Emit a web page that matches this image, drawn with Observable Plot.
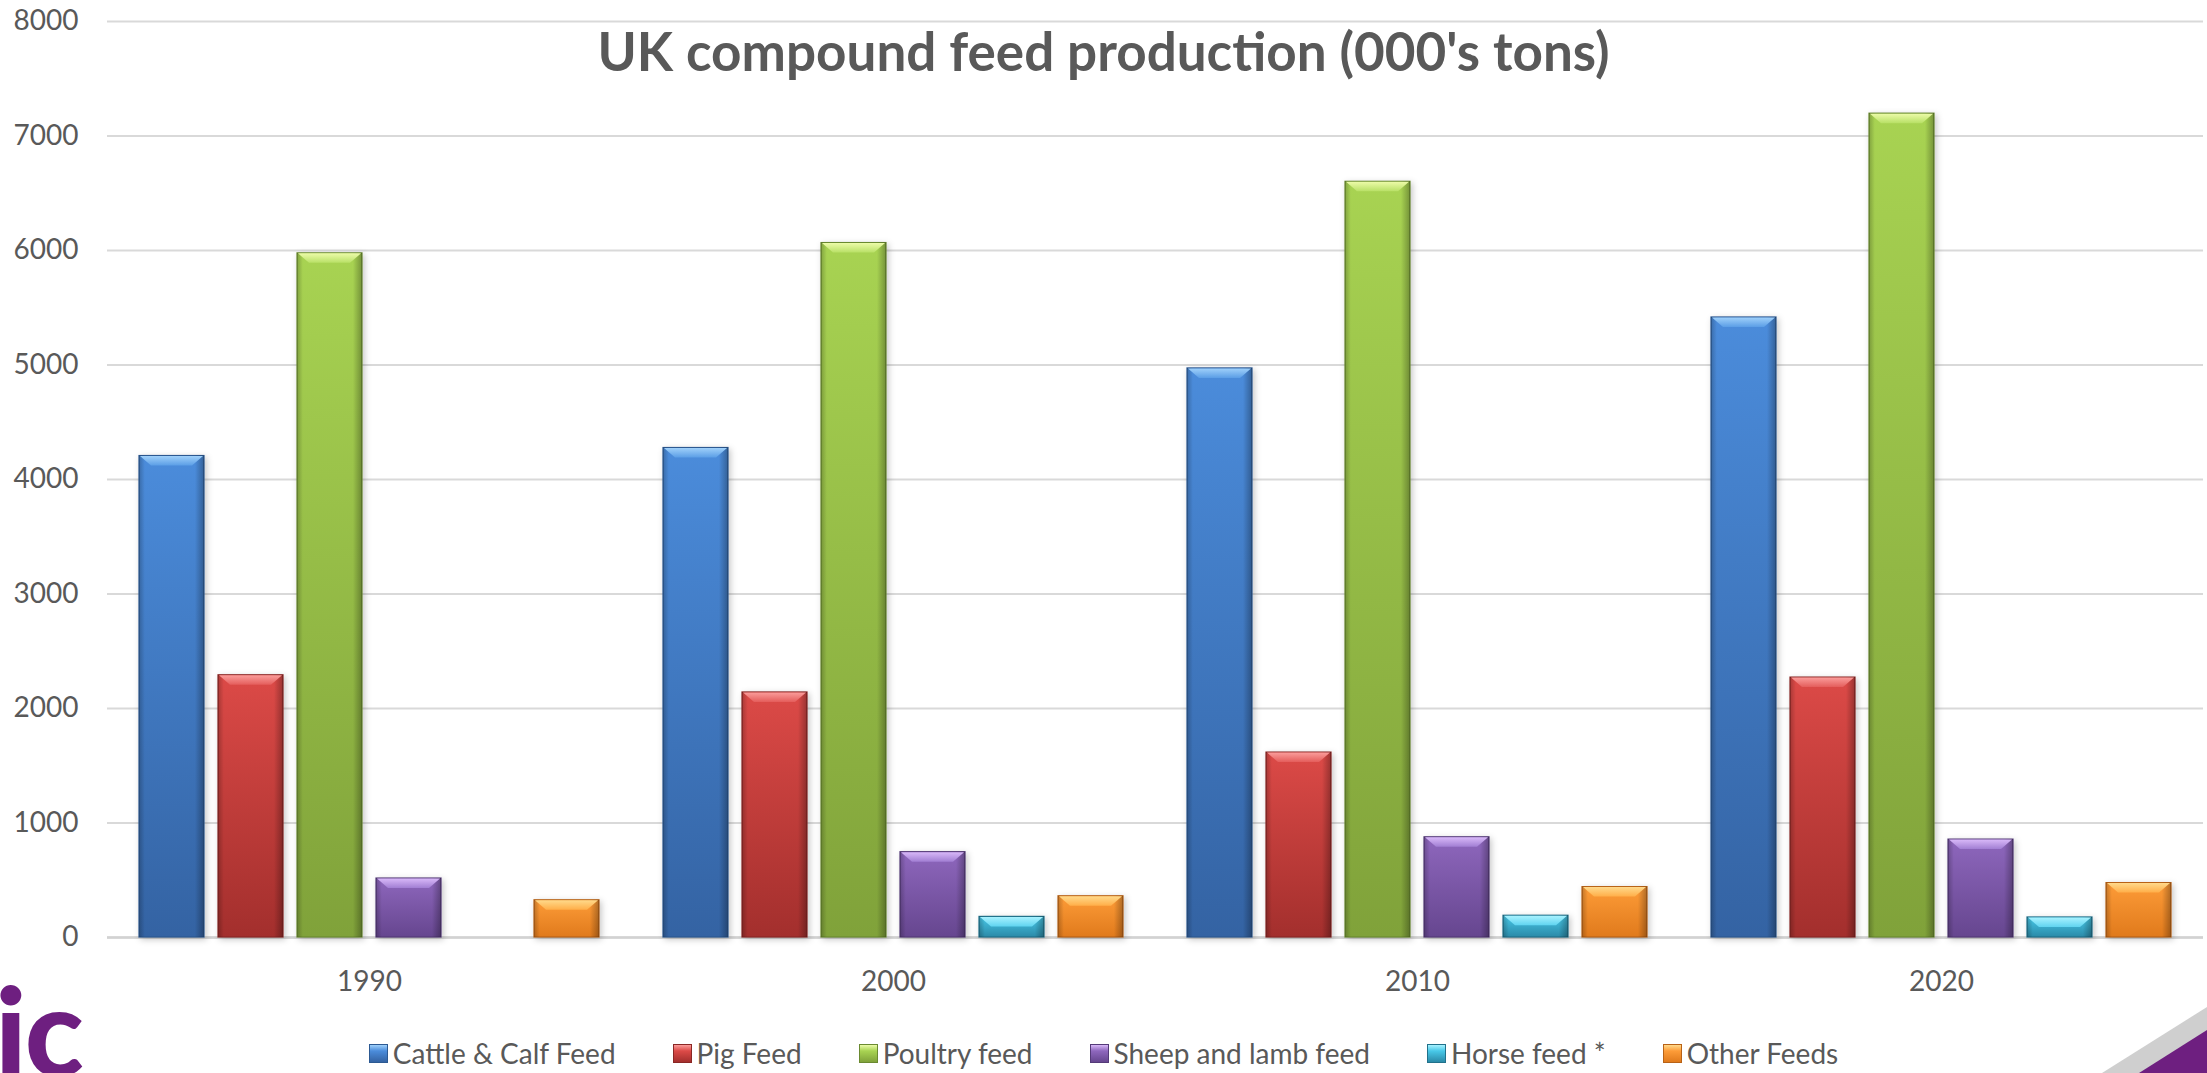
<!DOCTYPE html>
<html>
<head>
<meta charset="utf-8">
<script src="https://cdn.jsdelivr.net/npm/d3@7"></script>
<script src="https://cdn.jsdelivr.net/npm/@observablehq/plot@0.6"></script>
<style>
  html, body { margin: 0; padding: 0; background: #ffffff; }
  #page { position: relative; width: 2207px; height: 1073px; overflow: hidden; font-family: Lato, "Open Sans", sans-serif; color: #595959; }
  #title { position: absolute; left: 0; width: 2207px; top: 24px; text-align: center; font-weight: 700; font-size: 53px; line-height: 1; color: #595959; z-index: 2; }
  #legend { display: flex; justify-content: center; align-items: center; gap: 57px; padding-top: 25px; line-height: 36px; font-size: 28px; }
  #legend .item { display: flex; align-items: center; gap: 5px; }
  #legend .sw { width: 19px; height: 19px; box-sizing: border-box; }
  #logo { position: absolute; left: -5px; top: 968px; font-size: 122px; font-weight: 900; line-height: 1; color: #6e1f80; letter-spacing: -2px; }
  #corner { position: absolute; right: 0; bottom: 0; }
  svg rect[fill^="url(#body"] { filter: drop-shadow(2px 2px 3px rgba(0,0,0,0.22)); }
</style>
</head>
<body>
<div id="page">
  <div id="title">UK compound feed production (000's tons)</div>
  <div id="chart"></div>
  <div id="legend"></div>
  <div id="logo">ic</div>
  <svg id="corner" width="110" height="70" viewBox="0 0 110 70">
    <polygon points="5,70 110,4 110,70" fill="#cfcfcf"></polygon>
    <polygon points="42,70 110,27 110,70" fill="#6e1f80"></polygon>
  </svg>
</div>
<script>
// Categories and series
const years = ["1990", "2000", "2010", "2020"];
const series = ["Cattle & Calf Feed", "Pig Feed", "Poultry feed", "Sheep and lamb feed", "Horse feed *", "Other Feeds"];

// Production per year, thousand tonnes (no horse-feed figure for 1990)
const cattle  = [4205, 4275, 4970, 5415];
const pig     = [2290, 2140, 1615, 2270];
const poultry = [5975, 6065, 6600, 7195];
const sheep   = [515, 745, 875, 855];
const horse   = [null, 180, 190, 175];
const other   = [325, 360, 440, 475];

const yTicks = [0, 1000, 2000, 3000, 4000, 5000, 6000, 7000, 8000];

// Bar shading: light top / dark bottom, bevel highlight and outline per series
const bodyTop    = ["#4b8cdb", "#dc4a47", "#a8d352", "#8e67bd", "#48c8e8", "#fd9c38"];
const bodyBottom = ["#3463a3", "#a32f2d", "#80a23a", "#66468f", "#2b8aa8", "#e07a1c"];
const bevelTop   = ["#9fd0fa", "#fa9c9a", "#ecfba8", "#d8b8f8", "#a8f2ff", "#ffd98a"];
const bevelBot   = ["#5b9ee6", "#e45d5b", "#b8e066", "#a17ed3", "#60d4f0", "#ffae48"];
const outline    = ["#2c5992", "#8a2725", "#6a8a30", "#543a78", "#21718b", "#b86216"];

const valuesBySeries = [cattle, pig, poultry, sheep, horse, other];
const rows = [];
years.forEach((year, i) => {
  valuesBySeries.forEach((vals, k) => {
    if (vals[i] != null) rows.push({year, series: series[k], k, value: vals[i]});
  });
});

const chart = Plot.plot({
  width: 2207,
  height: 1010,
  marginTop: 21,
  marginBottom: 73,
  marginLeft: 106,
  marginRight: 3,
  style: {fontFamily: "Lato, 'Open Sans', sans-serif", color: "#595959", background: "transparent", overflow: "visible"},
  fx: {domain: years, padding: 0, label: null},
  x: {domain: series, paddingInner: 0.18, paddingOuter: 0.397, axis: null},
  y: {domain: [0, 8000], axis: null},
  color: {type: "identity"},
  marks: [
    Plot.gridY(yTicks, {stroke: "#d9d9d9", strokeOpacity: 1, strokeWidth: 2}),
    Plot.ruleY([0], {stroke: "#d2d2d2", strokeWidth: 2.5}),
    Plot.axisY(yTicks, {anchor: "left", tickSize: 0, tickPadding: 29, fontSize: 28, tickFormat: d3.format("d"), label: null}),
    Plot.axisFx({anchor: "bottom", tickSize: 0, tickPadding: 34, fontSize: 28, label: null}),
    Plot.barY(rows, {
      fx: "year", x: "series", y1: 0, y2: "value",
      fill: d => `url(#body-${d.k})`, stroke: d => outline[d.k], strokeWidth: 1.2
    }),
    Plot.barY(rows, {
      fx: "year", x: "series", y1: 0, y2: "value",
      fill: () => "url(#edge)"
    }),
    Plot.barY(rows, {
      fx: "year", x: "series", y1: "value", y2: "value", insetBottom: -10,
      fill: d => `url(#bevel-${d.k})`
    })
  ]
});

document.getElementById("chart").appendChild(chart);

// Gradient definitions used by the bar fills
const svg = d3.select(chart);
const defs = svg.insert("defs", ":first-child");
series.forEach((_, k) => {
  const gb = defs.append("linearGradient").attr("id", `body-${k}`).attr("x1", 0).attr("y1", 0).attr("x2", 0).attr("y2", 1);
  gb.append("stop").attr("offset", "0%").attr("stop-color", bodyTop[k]);
  gb.append("stop").attr("offset", "100%").attr("stop-color", bodyBottom[k]);
  const gv = defs.append("linearGradient").attr("id", `bevel-${k}`).attr("x1", 0).attr("y1", 0).attr("x2", 0).attr("y2", 1);
  gv.append("stop").attr("offset", "0%").attr("stop-color", bevelTop[k]);
  gv.append("stop").attr("offset", "100%").attr("stop-color", bevelBot[k]);
});
const ge = defs.append("linearGradient").attr("id", "edge").attr("x1", 0).attr("y1", 0).attr("x2", 1).attr("y2", 0);
[["0%", 0.22], ["9%", 0], ["86%", 0], ["100%", 0.3]].forEach(([o, a]) => {
  ge.append("stop").attr("offset", o).attr("stop-color", "#000").attr("stop-opacity", a);
});

// Turn the bevel strips into trapezoids (slanted lower corners)
svg.selectAll('rect[fill^="url(#bevel"]').each(function () {
  const r = d3.select(this);
  const x = +r.attr("x"), y = +r.attr("y"), w = +r.attr("width"), h = +r.attr("height");
  const inset = 12;
  d3.select(this.parentNode).insert("polygon", () => this)
    .attr("points", `${x + 1},${y + 0.5} ${x + w - 1},${y + 0.5} ${x + w - inset},${y + h} ${x + inset},${y + h}`)
    .attr("fill", r.attr("fill"));
  r.remove();
});

// Legend
const legend = d3.select("#legend");
series.forEach((name, k) => {
  const item = legend.append("div").attr("class", "item");
  item.append("div").attr("class", "sw")
    .style("background", `linear-gradient(to bottom, ${bevelTop[k]} 0%, ${bodyTop[k]} 35%, ${bodyBottom[k]} 100%)`)
    .style("border", `1px solid ${outline[k]}`);
  item.append("span").text(name);
});
</script>
</body>
</html>
